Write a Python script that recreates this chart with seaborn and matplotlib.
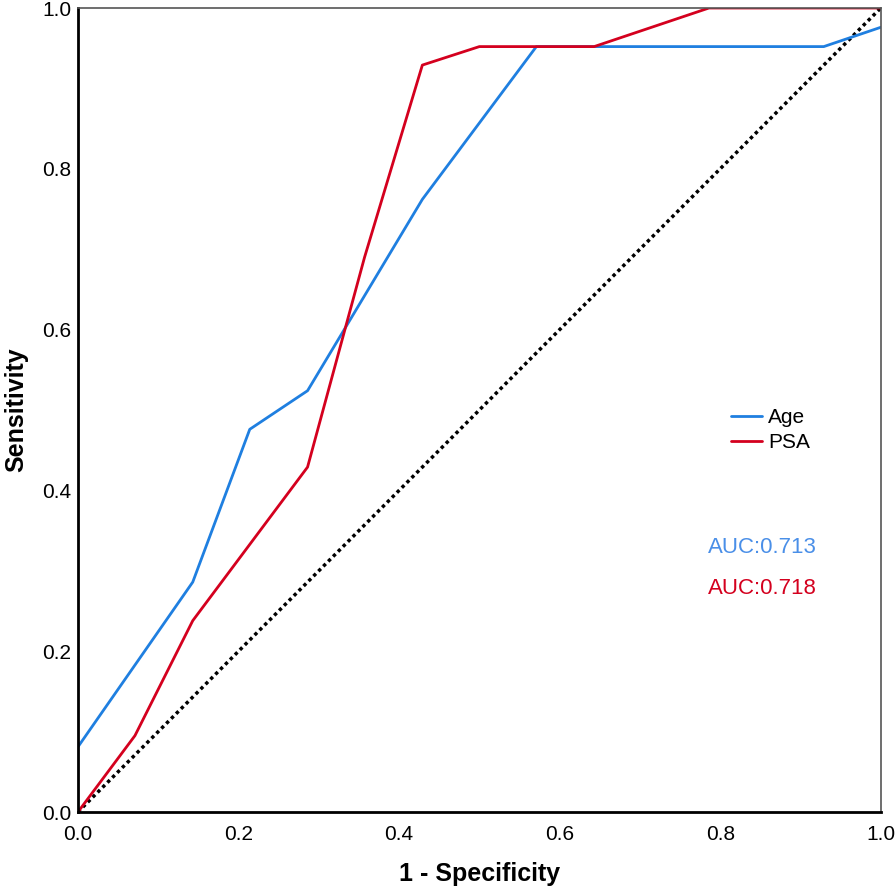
import pandas as pd
import seaborn as sns
import matplotlib.pyplot as plt

# ROC points
age_fpr = [0.0, 0.143, 0.214, 0.286, 0.429, 0.571, 0.929, 1.0]
age_tpr = [0.081, 0.286, 0.476, 0.524, 0.762, 0.952, 0.952, 0.976]
psa_fpr = [0.0, 0.071, 0.143, 0.286, 0.357, 0.429, 0.5, 0.643, 0.786, 1.0]
psa_tpr = [0.0, 0.095, 0.238, 0.429, 0.69, 0.929, 0.952, 0.952, 1.0, 1.0]
ref_line = [0.0, 1.0]
auc_labels = ['AUC:0.713', 'AUC:0.718']

blue = '#1f7fe0'
red = '#d4001e'

sns.set_style('white', {'text.color': 'black', 'axes.labelcolor': 'black',
                        'xtick.color': 'black', 'ytick.color': 'black'})
plt.rcParams['font.family'] = ['Liberation Sans', 'DejaVu Sans']

df = pd.concat([
    pd.DataFrame({'fpr': age_fpr, 'tpr': age_tpr, 'var': 'Age'}),
    pd.DataFrame({'fpr': psa_fpr, 'tpr': psa_tpr, 'var': 'PSA'}),
])

fig = plt.figure(figsize=(8.96, 8.89), dpi=100)
ax = fig.add_axes([0.087, 0.0866, 0.896, 0.9044])

ax.plot(ref_line, ref_line, color='black', linestyle=(0, (1, 1)), linewidth=2.5)
sns.lineplot(data=df, x='fpr', y='tpr', hue='var', palette={'Age': blue, 'PSA': red},
             linewidth=2, sort=False, estimator=None, ax=ax, legend=False)

ax.set_xlim(0, 1)
ax.set_ylim(0, 1)
ticks = [0.0, 0.2, 0.4, 0.6, 0.8, 1.0]
ax.set_xticks(ticks)
ax.set_yticks(ticks)
ax.set_xticklabels(['%.1f' % t for t in ticks], fontsize=15)
ax.set_yticklabels(['%.1f' % t for t in ticks], fontsize=15)
ax.tick_params(axis='x', length=0, pad=9)
ax.tick_params(axis='y', length=0, pad=5)

ax.set_xlabel('1 - Specificity', fontsize=18, fontweight='bold', labelpad=13)
ax.set_ylabel('Sensitivity', fontsize=18, fontweight='bold', labelpad=10)

for side in ['left', 'bottom']:
    ax.spines[side].set_color('black')
    ax.spines[side].set_linewidth(2)
for side in ['top', 'right']:
    ax.spines[side].set_color('#555555')
    ax.spines[side].set_linewidth(1.2)

h1, = ax.plot([], [], color=blue, linewidth=2)
h2, = ax.plot([], [], color=red, linewidth=2)
ax.legend([h1, h2], ['Age', 'PSA'], loc='center left', bbox_to_anchor=(0.79, 0.475),
          frameon=False, fontsize=15, handlelength=1.5, handletextpad=0.3, labelspacing=0.3)

ax.text(0.785, 0.329, auc_labels[0], color='#4a8fe8', fontsize=16, transform=ax.transAxes, va='center')
ax.text(0.785, 0.278, auc_labels[1], color=red, fontsize=16, transform=ax.transAxes, va='center')

fig.savefig('out.png', dpi=100)
